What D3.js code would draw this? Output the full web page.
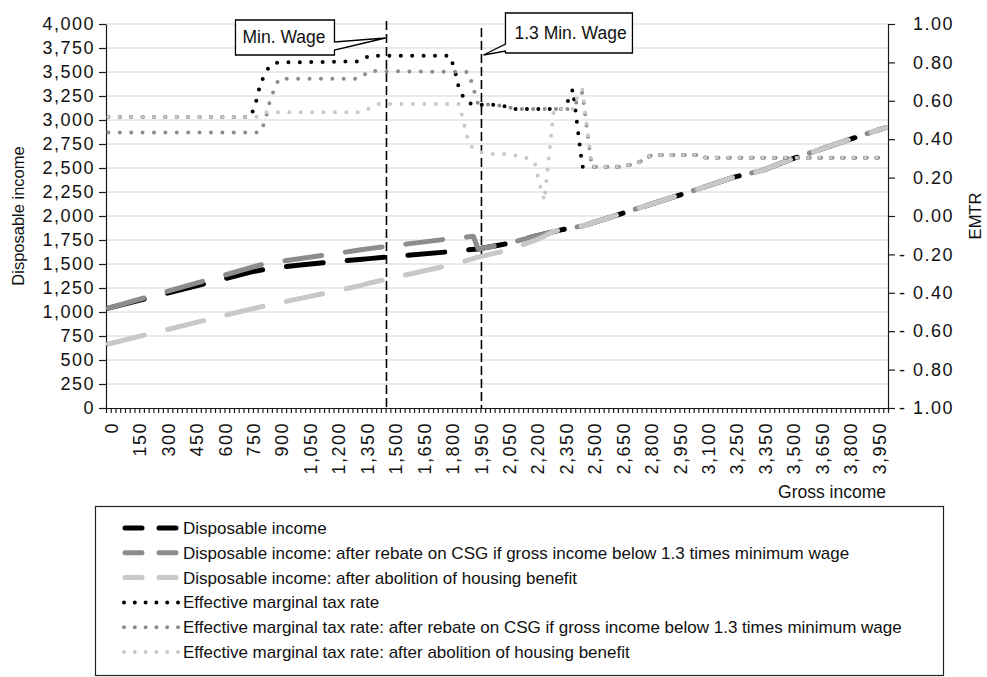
<!DOCTYPE html>
<html>
<head>
<meta charset="utf-8">
<script src="https://cdn.jsdelivr.net/npm/d3@7"></script>
<style>
  body { margin: 0; background: #fff; }
  text { font-family: "Liberation Sans", Arial, Helvetica, sans-serif; fill: #111; }
</style>
</head>
<body>
<div id="vis"></div>
<script>
// tick labels on the gross income axis (one label every 6 categories)
const grossTicks = [0, 150, 300, 450, 600, 750, 900, 1050, 1200, 1350, 1500, 1650, 1800, 1950,
  2050, 2200, 2350, 2500, 2650, 2800, 2950, 3100, 3250, 3350, 3500, 3650, 3800, 3950];
const categoryCount = 165;

const leftTicks = [0, 250, 500, 750, 1000, 1250, 1500, 1750, 2000, 2250, 2500, 2750, 3000, 3250, 3500, 3750, 4000];
const rightTicks = [-1, -0.8, -0.6, -0.4, -0.2, 0, 0.2, 0.4, 0.6, 0.8, 1];

// [gross income, disposable income]
const dispTail = [[2350, 1860], [2400, 1880], [2450, 1895], [2500, 1925], [2650, 2020], [2800, 2115],
  [2950, 2210], [3100, 2305], [3250, 2405], [3350, 2475], [3500, 2590], [3650, 2690], [3800, 2790],
  [3950, 2890], [4000, 2920]];
const dispIncome = [[0, 1040], [750, 1415], [850, 1455], [1000, 1488], [1325, 1548], [1375, 1556],
  [1500, 1578], [1800, 1628], [1950, 1657], [2050, 1710], [2200, 1790]].concat(dispTail);
const dispCsgRebate = [[0, 1040], [800, 1490], [900, 1525], [1325, 1645], [1375, 1660], [1800, 1763],
  [1925, 1790], [1950, 1657], [2050, 1710], [2200, 1790]].concat(dispTail);
const dispNoHousing = [[0, 667], [750, 1030], [800, 1052], [1325, 1272], [1375, 1300], [1850, 1510],
  [1950, 1572], [2050, 1640], [2200, 1745], [2250, 1790], [2300, 1842]].concat(dispTail);

// [gross income, effective marginal tax rate]
const emtrTail = [[2650, 0.257], [2700, 0.265], [2750, 0.28], [2800, 0.31], [2825, 0.318],
  [3050, 0.318], [3100, 0.304], [4000, 0.304]];
const emtr = [[0, 0.515], [750, 0.515], [775, 0.58], [800, 0.68], [825, 0.74], [850, 0.78],
  [875, 0.795], [900, 0.80], [1325, 0.805], [1375, 0.835], [1800, 0.835], [1825, 0.77], [1850, 0.66],
  [1875, 0.615], [1900, 0.59], [1925, 0.58], [2000, 0.58], [2050, 0.57], [2100, 0.557], [2350, 0.557],
  [2375, 0.60], [2400, 0.66], [2425, 0.46], [2450, 0.257]].concat(emtrTail);
const emtrCsgRebate = [[0, 0.435], [800, 0.435], [825, 0.49], [850, 0.59], [875, 0.66], [900, 0.715],
  [1325, 0.715], [1375, 0.755], [1900, 0.75], [1950, 0.583], [2000, 0.58], [2050, 0.57], [2100, 0.557],
  [2375, 0.557], [2400, 0.57], [2425, 0.60], [2450, 0.645], [2475, 0.45], [2500, 0.257]].concat(emtrTail);
const emtrNoHousing = [[0, 0.515], [775, 0.515], [800, 0.52], [825, 0.54], [1325, 0.54], [1375, 0.56],
  [1400, 0.575], [1425, 0.583], [1850, 0.583], [1900, 0.385], [1925, 0.35], [1950, 0.335], [2000, 0.323],
  [2050, 0.323], [2100, 0.315], [2175, 0.297], [2200, 0.275], [2225, 0.165], [2250, 0.08], [2275, 0.32],
  [2300, 0.557], [2400, 0.557], [2425, 0.62], [2450, 0.66], [2475, 0.46], [2500, 0.257]].concat(emtrTail);

// vertical markers
const markers = [{label: "Min. Wage", gross: 1467}, {label: "1.3 Min. Wage", gross: 1962}];

const series = [
  {name: "Disposable income", data: dispIncome, axis: "left", color: "#000000"},
  {name: "Disposable income: after rebate on CSG if gross income below 1.3 times minimum wage", data: dispCsgRebate, axis: "left", color: "#8c8c8c"},
  {name: "Disposable income: after abolition of housing benefit", data: dispNoHousing, axis: "left", color: "#c8c8c8"},
  {name: "Effective marginal tax rate", data: emtr, axis: "right", color: "#000000"},
  {name: "Effective marginal tax rate: after rebate on CSG if gross income below 1.3 times minimum wage", data: emtrCsgRebate, axis: "right", color: "#8c8c8c"},
  {name: "Effective marginal tax rate: after abolition of housing benefit", data: emtrNoHousing, axis: "right", color: "#c8c8c8"}
];

let width = 987;
let height = 677;
let margin = {top: 24, bottom: 408, left: 106, right: 888};

let svg = d3.select("#vis")
  .append("svg")
  .attr("width", width)
  .attr("height", height)
  .style("background", "white");

// scales
let band = (margin.right - margin.left) / categoryCount;
let slot = band * 6;

let xScale = d3.scaleLinear()
  .domain(grossTicks)
  .range(grossTicks.map((d, i) => margin.left + band / 2 + i * slot));

let catScale = d3.scaleLinear()
  .domain([0, categoryCount])
  .range([margin.left, margin.right]);

let yLeft = d3.scaleLinear()
  .domain([0, 4000])
  .range([margin.bottom, margin.top]);

let yRight = d3.scaleLinear()
  .domain([-1, 1])
  .range([margin.bottom, margin.top]);

// gridlines
svg.append("g")
  .selectAll("line")
  .data(leftTicks.slice(1))
  .enter()
  .append("line")
  .attr("x1", margin.left)
  .attr("x2", margin.right)
  .attr("y1", d => yLeft(d))
  .attr("y2", d => yLeft(d))
  .attr("stroke", "#d6d6d6")
  .attr("stroke-width", 1.2);

// axes
let numStyle = sel => sel.selectAll("text")
  .style("font-size", "18px")
  .style("letter-spacing", "1.5px")
  .attr("fill", "#111");

let leftAxis = svg.append("g")
  .attr("transform", `translate(${margin.left}, 0)`)
  .call(d3.axisLeft(yLeft).tickValues(leftTicks).tickSize(7).tickSizeOuter(0).tickPadding(4)
    .tickFormat(d3.format(",")));
numStyle(leftAxis);

let rightFmt = d => d < 0 ? "- " + d3.format(".2f")(-d) : d3.format(".2f")(d);
let rightAxis = svg.append("g")
  .attr("transform", `translate(${margin.right}, 0)`)
  .call(d3.axisRight(yRight).tickValues(rightTicks).tickSize(7).tickSizeOuter(0).tickFormat(rightFmt));
numStyle(rightAxis);
rightAxis.selectAll("text").attr("text-anchor", "end").attr("x", 66);

let minorAxis = svg.append("g")
  .attr("transform", `translate(0, ${margin.bottom})`)
  .call(d3.axisBottom(catScale).tickValues(d3.range(0, categoryCount + 1)).tickSize(5).tickSizeOuter(0)
    .tickFormat(""));

let xAxis = svg.append("g")
  .attr("transform", `translate(0, ${margin.bottom})`)
  .call(d3.axisBottom(xScale).tickValues(grossTicks).tickSize(0).tickFormat(d3.format(",")));
xAxis.select(".domain").remove();
numStyle(xAxis);
xAxis.selectAll("text")
  .attr("text-anchor", "end")
  .attr("transform", "translate(0, 14) rotate(-90)")
  .attr("x", 0)
  .attr("y", 0)
  .attr("dy", "0.5em");

svg.selectAll(".domain, .tick line").attr("stroke", "#1a1a1a").attr("stroke-width", 1.2);

// axis titles
svg.append("text")
  .attr("transform", `translate(24, ${(margin.top + margin.bottom) / 2}) rotate(-90)`)
  .attr("text-anchor", "middle")
  .style("font-size", "16.5px")
  .text("Disposable income");

svg.append("text")
  .attr("transform", `translate(981, ${(margin.top + margin.bottom) / 2}) rotate(-90)`)
  .attr("text-anchor", "middle")
  .style("font-size", "16.5px")
  .text("EMTR");

svg.append("text")
  .attr("x", 886)
  .attr("y", 498)
  .attr("text-anchor", "end")
  .style("font-size", "17.5px")
  .text("Gross income");

// vertical marker lines
svg.selectAll(".marker")
  .data(markers)
  .enter()
  .append("line")
  .attr("class", "marker")
  .attr("x1", d => xScale(d.gross))
  .attr("x2", d => xScale(d.gross))
  .attr("y1", (d, i) => i === 0 ? 21 : 28)
  .attr("y2", margin.bottom)
  .attr("stroke", "#000")
  .attr("stroke-width", 1.6)
  .attr("stroke-dasharray", "9,4");

// series lines
let line = axis => d3.line()
  .x(d => xScale(d[0]))
  .y(d => axis === "left" ? yLeft(d[1]) : yRight(d[1]));

svg.selectAll(".series")
  .data(series)
  .enter()
  .append("path")
  .attr("class", "series")
  .attr("d", d => line(d.axis)(d.data))
  .attr("fill", "none")
  .attr("stroke", d => d.color)
  .attr("stroke-linecap", "round")
  .attr("stroke-linejoin", "round")
  .attr("stroke-width", d => d.axis === "left" ? 5 : 4)
  .attr("stroke-dasharray", d => d.axis === "left" ? "37,24" : "0,11.4");

// callouts
let m0 = xScale(markers[0].gross);
let m1 = xScale(markers[1].gross);
svg.append("path")
  .attr("d", `M${m0 - 151},20 H${m0 - 52} V42 L${m0 - 1},38 L${m0 - 52},50 V55 H${m0 - 151} Z`)
  .attr("fill", "white")
  .attr("stroke", "#000")
  .attr("stroke-width", 1.3);
svg.append("text")
  .attr("x", m0 - 144)
  .attr("y", 43)
  .style("font-size", "17.5px")
  .text(markers[0].label);

svg.append("path")
  .attr("d", `M${m1 + 24},13 H${m1 + 151} V53 H${m1 + 24} V51 L${m1 + 2},55 L${m1 + 24},44 Z`)
  .attr("fill", "white")
  .attr("stroke", "#000")
  .attr("stroke-width", 1.3);
svg.append("text")
  .attr("x", m1 + 33)
  .attr("y", 39)
  .style("font-size", "17.5px")
  .text(markers[1].label);

// legend
let legend = svg.append("g");
legend.append("rect")
  .attr("x", 95.5)
  .attr("y", 506.5)
  .attr("width", 848)
  .attr("height", 169)
  .attr("fill", "white")
  .attr("stroke", "#222")
  .attr("stroke-width", 1.2);

let rows = legend.selectAll(".row")
  .data(series)
  .enter()
  .append("g")
  .attr("transform", (d, i) => `translate(0, ${528 + i * 24.8})`);

rows.append("line")
  .attr("x1", d => d.axis === "left" ? 125 : 124)
  .attr("x2", d => d.axis === "left" ? 176 : 179)
  .attr("stroke", d => d.color)
  .attr("stroke-linecap", "round")
  .attr("stroke-width", d => d.axis === "left" ? 5 : 4)
  .attr("stroke-dasharray", d => d.axis === "left" ? "17,17" : "0,10.8");

rows.append("text")
  .attr("x", 183)
  .attr("dy", "0.35em")
  .style("font-size", "17px")
  .text(d => d.name);
</script>
</body>
</html>
